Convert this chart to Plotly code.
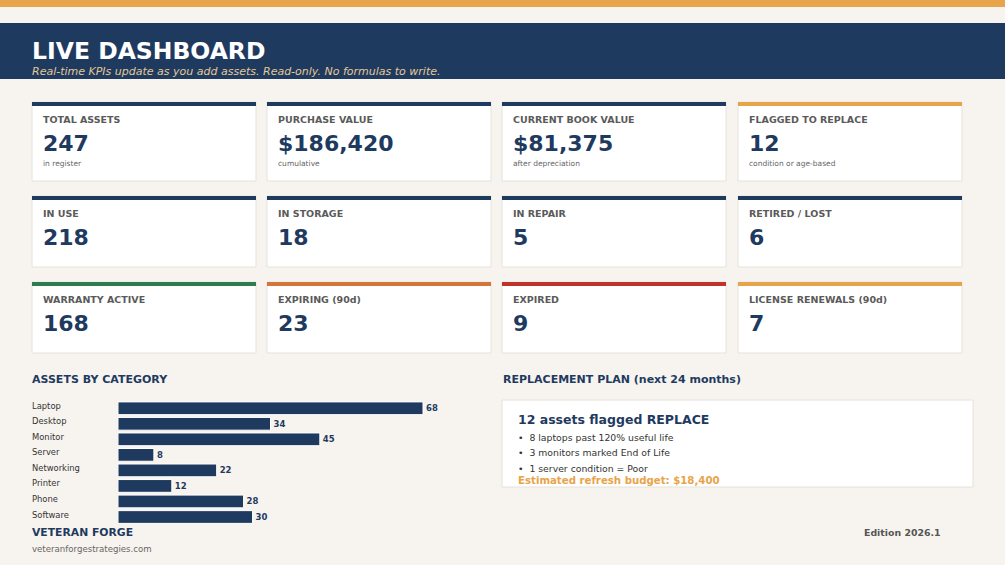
import plotly.graph_objects as go

W, H = 1005, 565
NAVY = "#1F3A5F"
ORANGE = "#E8A44A"
BG = "#F7F4EF"

# ---- data ----
kpi_labels = ["TOTAL ASSETS", "PURCHASE VALUE", "CURRENT BOOK VALUE", "FLAGGED TO REPLACE",
              "IN USE", "IN STORAGE", "IN REPAIR", "RETIRED / LOST",
              "WARRANTY ACTIVE", "EXPIRING (90d)", "EXPIRED", "LICENSE RENEWALS (90d)"]
kpi_values = ["247", "$186,420", "$81,375", "12",
              "218", "18", "5", "6",
              "168", "23", "9", "7"]
kpi_subs = ["in register", "cumulative", "after depreciation", "condition or age-based",
            "", "", "", "",
            "", "", "", ""]
kpi_accents = [NAVY, NAVY, NAVY, ORANGE,
               NAVY, NAVY, NAVY, NAVY,
               "#2E7D4F", "#D4763A", "#C0322B", ORANGE]

categories = ["Laptop", "Desktop", "Monitor", "Server", "Networking", "Printer", "Phone", "Software"]
counts = [68, 34, 45, 8, 22, 12, 28, 30]

plan_title = "12 assets flagged REPLACE"
plan_bullets = ["8 laptops past 120% useful life",
                "3 monitors marked End of Life",
                "1 server condition = Poor"]
plan_budget = "Estimated refresh budget: $18,400"


def px(x):
    return x / W


def py(y):
    return 1 - y / H


shapes = []
annotations = []


def rect(x0, y0, x1, y1, fill, line=None, lw=0):
    shapes.append(dict(type="rect", xref="paper", yref="paper",
                       x0=px(x0), x1=px(x1), y0=py(y1), y1=py(y0),
                       fillcolor=fill, line=dict(color=line or fill, width=lw), layer="below"))


def text(x, y, s, size, color, bold=False, italic=False, xanchor="left", family="DejaVu Sans"):
    if bold:
        s = "<b>" + s + "</b>"
    if italic:
        s = "<i>" + s + "</i>"
    annotations.append(dict(xref="paper", yref="paper", x=px(x), y=py(y), text=s,
                            showarrow=False, xanchor=xanchor, yanchor="middle",
                            font=dict(size=size, color=color, family=family)))


# header
rect(0, 0, W, 7, ORANGE)
rect(0, 23, W, 79, NAVY)
text(30, 51, "LIVE DASHBOARD", 23.5, "white", bold=True)
text(30, 71, "Real-time KPIs update as you add assets. Read-only. No formulas to write.",
     11, "#E3C896", italic=True)

# KPI cards
col_x = [32, 267, 502, 738]
card_w = 224
rows = [(102, 181), (196, 267), (282, 353)]
for i, lab in enumerate(kpi_labels):
    r, c = divmod(i, 4)
    x0 = col_x[c]
    y0, y1 = rows[r]
    rect(x0, y0, x0 + card_w, y1, "white", line="#E6E2DC", lw=1)
    rect(x0, y0, x0 + card_w, y0 + 4, kpi_accents[i])
    text(x0 + 9, y0 + 17, lab, 9.5, "#5A5A5A", bold=True)
    text(x0 + 9, y0 + 41, kpi_values[i], 22, NAVY, bold=True)
    if kpi_subs[i]:
        text(x0 + 9, y0 + 61, kpi_subs[i], 7.5, "#666666")

# section titles
text(30, 379, "ASSETS BY CATEGORY", 11, NAVY, bold=True)
text(501, 379, "REPLACEMENT PLAN (next 24 months)", 11, NAVY, bold=True)

# replacement box
rect(502, 400, 973, 487, "white", line="#E6E2DC", lw=1)
text(516, 419, plan_title, 12.5, NAVY, bold=True)
for k, b in enumerate(plan_bullets):
    text(516, 437 + 15.9 * k, "•  " + b, 9.3, "#333333")
text(516, 481, plan_budget, 10.2, ORANGE, bold=True)

# footer
text(30, 532, "VETERAN FORGE", 10.8, NAVY, bold=True)
text(30, 549, "veteranforgestrategies.com", 8.6, "#666666")
text(943, 532, "Edition 2026.1", 9.4, "#555555", bold=True, xanchor="right")

# category labels (left aligned, via category axis)
for cat in categories:
    annotations.append(dict(xref="paper", yref="y", x=px(30), y=cat, text=cat,
                            showarrow=False, xanchor="left", yanchor="middle", yshift=2.5,
                            font=dict(size=8.4, color="#333333", family="DejaVu Sans")))

bar_x0, bar_x1 = 118, 480
scale = 305 / 68.0
fig = go.Figure(go.Bar(
    x=counts, y=categories, orientation="h",
    marker=dict(color=NAVY, line=dict(color="white", width=1)),
    text=[f"<b>{v}</b>" for v in counts], textposition="outside",
    textfont=dict(size=8.5, color=NAVY, family="DejaVu Sans"),
    cliponaxis=False, hoverinfo="skip", width=0.82,
))

fig.update_layout(
    width=W, height=H, margin=dict(l=0, r=0, t=0, b=0),
    paper_bgcolor=BG, plot_bgcolor="rgba(0,0,0,0)",
    showlegend=False, shapes=shapes, annotations=annotations,
    font=dict(family="DejaVu Sans"),
    xaxis=dict(domain=[px(bar_x0), px(bar_x1)], range=[0, (bar_x1 - bar_x0) / scale],
               visible=False, fixedrange=True),
    yaxis=dict(domain=[py(526.5), py(400.5)], categoryorder="array", categoryarray=categories,
               autorange="reversed", visible=False, fixedrange=True),
)

fig.write_html("out.html", config={"displayModeBar": False},
               post_script="document.body.style.margin='0';document.body.style.overflow='hidden';")
